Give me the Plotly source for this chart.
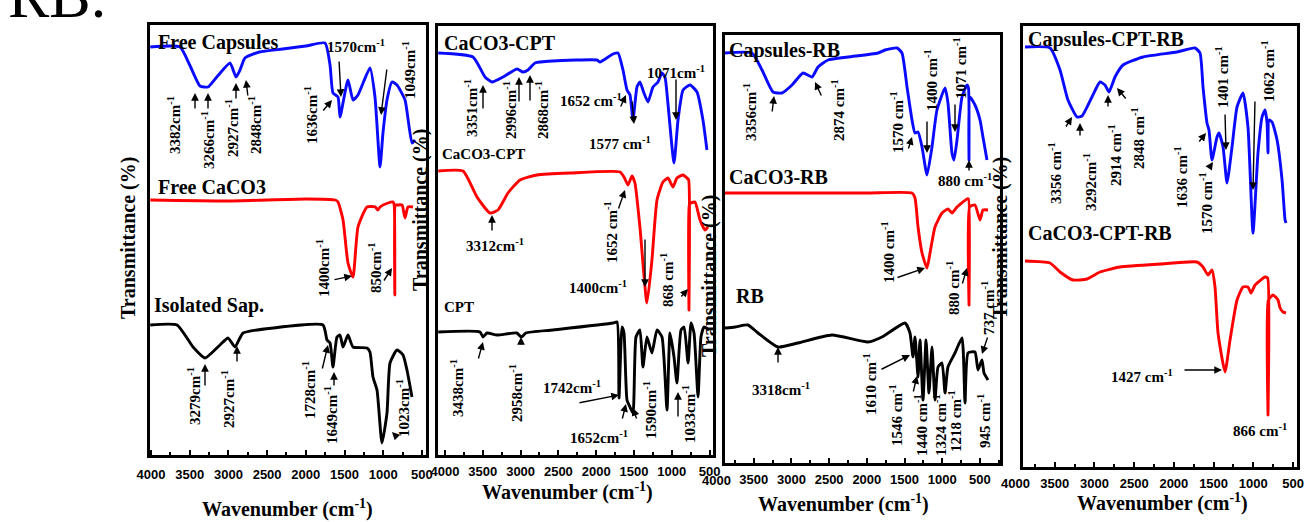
import plotly.graph_objects as go

W, H = 1305, 522

# ---------------- DATA (wavenumber cm-1, transmittance a.u.) ----------------
# Panel 1
wn_free_capsules = [4010,3625,3500,3367,3264,3150,2979,2902,2850,2786,2600,2300,2000,1752,1687,1649,1584,1558,1455,1390,1326,1171,1106,1041,1003,951,886,822,718,628,589]
t_free_capsules = [40.8,40.8,39.0,36.9,36.8,37.8,39.2,37.8,38.5,39.7,40.3,40.6,40.9,41.2,39.0,36.2,35.8,33.8,37.5,35.5,36.0,38.7,35.8,28.8,32.2,35.5,37.3,37.0,35.5,31.2,31.5]
wn_free_caco3 = [4010,3000,2000,1620,1584,1519,1455,1390,1326,1209,1100,1070,1041,938,873,858,850,842,822,757,718,680,615]
t_free_caco3 = [25.5,25.4,25.6,25.5,25.3,23.5,19.2,17.8,22.8,24.8,24.8,24.5,24.8,25.2,25.3,25.0,16.0,25.0,25.0,25.0,23.7,24.8,24.8]
wn_isolated_sap = [4010,3664,3457,3302,3109,3005,2915,2811,2424,1778,1726,1687,1649,1597,1558,1519,1455,1390,1209,1171,1132,1080,1016,951,912,822,744,693,628]
t_isolated_sap = [13.0,13.0,10.8,9.7,11.0,11.7,10.8,12.2,12.7,13.0,11.5,11.2,8.8,11.8,12.0,10.8,12.0,10.8,10.7,10.3,7.8,6.5,1.2,4.2,9.2,10.5,10.0,8.5,5.8]

# Panel 2
wn_caco3_cpt = [4090,3630,3471,3378,3233,3047,2968,2902,2809,2571,1989,1949,1777,1711,1645,1592,1552,1513,1460,1421,1368,1314,1248,1182,1131,1090,1051,970,917,850,758,666,587,534]
t_caco3_cpt = [40.2,39.8,37.8,37.3,37.8,38.6,38.3,38.5,39.2,39.4,39.5,39.3,40.1,40.2,38.5,36.5,36.0,33.5,36.8,37.3,36.2,35.3,36.8,37.3,38.2,37.8,35.2,29.2,33.5,36.5,37.0,36.3,33.5,30.5]
wn_caco3_cpt_red = [4090,3762,3577,3405,3299,3167,3008,2783,2346,1685,1632,1579,1526,1487,1421,1328,1262,1195,1116,1050,983,931,850,798,776,772,767,745,692,626,560,521]
t_caco3_cpt_red = [28.4,28.4,25.8,24.2,24.5,26.2,27.5,28.0,28.2,28.3,27.8,27.0,27.9,27.2,22.8,15.2,19.5,25.5,27.3,27.7,26.8,27.7,28.0,27.7,27.5,14.5,25.0,25.2,25.3,23.5,22.5,22.8]
wn_cpt = [4090,3537,3497,3444,3312,3050,2990,2930,2571,1777,1724,1698,1658,1632,1592,1553,1513,1473,1421,1381,1328,1262,1195,1129,1063,1023,970,931,877,837,784,745,705,652,613,573,507]
t_cpt = [12.3,12.3,11.8,12.2,12.0,12.2,11.8,12.2,12.5,13.2,13.3,5.7,12.8,12.2,5.5,4.8,4.2,11.8,12.5,8.8,11.8,10.2,12.5,11.8,4.5,12.2,9.8,7.2,12.5,12.8,9.2,13.2,12.2,5.8,11.8,12.8,12.5]

# Panel 3
wn_capsules_rb = [3881,3523,3390,3244,3125,2992,2846,2727,2647,2515,2250,1852,1759,1600,1534,1467,1401,1361,1321,1268,1202,1136,1070,963,924,871,844,804,738,672,652,645,636,566,499,460,407]
t_capsules_rb = [41.0,41.0,39.3,37.1,37.0,37.8,39.0,38.6,39.6,40.3,40.6,41.0,41.3,41.5,41.0,37.6,34.3,33.0,33.1,31.6,28.8,31.6,35.3,37.5,36.0,31.0,30.3,32.3,36.6,37.8,37.5,30.3,36.6,35.8,34.3,32.6,30.3]
wn_caco3_rb = [3881,3000,2000,1401,1361,1321,1268,1202,1162,1096,1003,924,871,804,672,652,645,636,566,499,460,393]
t_caco3_rb = [27.0,27.0,27.0,27.0,26.5,23.6,21.0,19.5,21.0,23.6,25.0,25.4,25.0,25.6,26.4,26.4,15.8,25.6,25.8,24.3,25.3,25.3]
wn_rb = [3881,3748,3576,3443,3178,2913,2462,1984,1799,1494,1428,1388,1361,1321,1295,1255,1215,1176,1136,1096,1056,1003,963,924,831,738,698,658,566,526,473,446,393]
t_rb = [13.5,13.6,13.8,13.0,11.6,12.0,12.8,12.1,12.6,14.0,13.0,10.6,12.6,8.6,12.3,6.3,12.3,7.0,11.6,6.3,9.6,10.0,7.0,9.6,11.0,12.5,6.0,11.0,11.1,9.3,10.3,9.0,8.3]

# Panel 4
wn_capsules_cpt_rb = [3874,3559,3433,3333,3219,3156,3031,2930,2867,2817,2741,2640,2388,1960,1734,1671,1633,1583,1558,1520,1457,1432,1381,1331,1268,1205,1130,1067,1004,941,890,852,827,815,802,764,701,638,600,588]
t_capsules_cpt_rb = [42.0,41.9,39.7,36.7,35.0,35.1,37.0,38.5,38.2,37.5,39.0,40.2,41.0,41.5,41.9,41.4,38.0,34.4,33.7,30.7,33.0,33.4,32.0,28.4,32.0,36.0,37.4,34.0,23.4,31.4,35.0,35.7,34.4,31.4,34.7,34.5,32.7,28.7,24.7,24.4]
wn_caco3_cpt_rb = [3874,3559,3433,3270,3093,2930,2678,2174,1709,1633,1570,1520,1482,1444,1356,1293,1205,1130,1067,1029,978,852,820,815,810,752,689,663,626,588]
t_caco3_cpt_rb = [20.6,20.4,19.5,18.7,18.8,19.5,20.0,20.3,20.5,20.0,19.2,19.7,18.0,13.4,9.5,12.7,16.7,18.0,18.0,17.4,18.2,19.0,18.9,5.2,16.7,17.2,16.7,15.9,15.5,15.4]

tick_values = [4000, 3500, 3000, 2500, 2000, 1500, 1000, 500]
tick_labels = [str(v) for v in tick_values]

# ---------------- FIGURE ----------------
BLUE, RED, BLACK = "#0a0aff", "#ff0000", "#000000"
SERIF = "Liberation Serif"
SANS = "Liberation Sans"

panels = [
    dict(box=(150, 426, 25, 455), xr=[4013, 447], yr=[0, 43.0], standoff=6),
    dict(box=(438, 713, 26, 455), xr=[4093, 454], yr=[0, 42.9], standoff=3),
    dict(box=(725, 1000, 35, 463), xr=[3881, 234], yr=[0, 42.8], standoff=3),
    dict(box=(1023, 1297, 26, 467), xr=[3899, 450], yr=[0, 44.1], standoff=3),
]

series = [
    (1, wn_free_capsules, t_free_capsules, BLUE),
    (1, wn_free_caco3, t_free_caco3, RED),
    (1, wn_isolated_sap, t_isolated_sap, BLACK),
    (2, wn_caco3_cpt, t_caco3_cpt, BLUE),
    (2, wn_caco3_cpt_red, t_caco3_cpt_red, RED),
    (2, wn_cpt, t_cpt, BLACK),
    (3, wn_capsules_rb, t_capsules_rb, BLUE),
    (3, wn_caco3_rb, t_caco3_rb, RED),
    (3, wn_rb, t_rb, BLACK),
    (4, wn_capsules_cpt_rb, t_capsules_cpt_rb, BLUE),
    (4, wn_caco3_cpt_rb, t_caco3_cpt_rb, RED),
]

fig = go.Figure()
for p, xs, ys, col in series:
    sfx = "" if p == 1 else str(p)
    fig.add_trace(go.Scatter(x=xs, y=ys, mode="lines",
                             line=dict(color=col, width=2.9, shape="spline", smoothing=0.5),
                             xaxis="x" + sfx, yaxis="y" + sfx, hoverinfo="skip"))

layout = dict(width=W, height=H, autosize=False,
              margin=dict(l=0, r=0, t=0, b=0, pad=0, autoexpand=False),
              paper_bgcolor="white", plot_bgcolor="white", showlegend=False)
for i, pn in enumerate(panels, start=1):
    x0, x1, top, bot = pn["box"]
    sfx = "" if i == 1 else str(i)
    layout["xaxis" + sfx] = dict(
        domain=[x0 / W, x1 / W], range=pn["xr"], anchor="y" + sfx,
        showline=True, mirror=True, linewidth=2.6, linecolor="black",
        ticks="inside", ticklen=5, tickwidth=2, tickcolor="black",
        tickmode="array", tickvals=tick_values, ticktext=tick_labels,
        minor=dict(ticks="inside", ticklen=3, tickwidth=1.5, dtick=250, tick0=0, tickcolor="black"),
        tickfont=dict(family=SANS, size=13, color="black", weight="bold"),
        ticklabelstandoff=pn["standoff"], automargin=False,
        showgrid=False, zeroline=False, fixedrange=True)
    layout["yaxis" + sfx] = dict(
        domain=[1 - bot / H, 1 - top / H], range=pn["yr"], anchor="x" + sfx,
        showline=True, mirror=True, linewidth=2.6, linecolor="black", automargin=False,
        showticklabels=False, ticks="", showgrid=False, zeroline=False, fixedrange=True)
fig.update_layout(**layout)

ann = []

def txt(text, x, y, size=15, rot=False, anchor="center", family=SERIF, bold=True):
    ann.append(dict(text=text, x=x / W, y=1 - y / H, xref="paper", yref="paper",
                    showarrow=False, xanchor=anchor, yanchor="middle",
                    textangle=-90 if rot else 0,
                    font=dict(family=family, size=size, color="black",
                              weight="bold" if bold else "normal")))

def arrow(tx, ty, hx, hy):
    ann.append(dict(text="", x=hx / W, y=1 - hy / H, xref="paper", yref="paper",
                    ax=tx - hx, ay=ty - hy, axref="pixel", ayref="pixel",
                    showarrow=True, arrowhead=2, arrowsize=1.1, arrowwidth=1.4,
                    arrowcolor="black", standoff=0))

S = "cm<sup>-1</sup>"
for t_, x_, y_, s_ in [("Free Capsules", 156, 42, 20), ("Free CaCO3", 156, 187, 20),
                       ("Isolated Sap.", 152, 305, 20), ("CaCO3-CPT", 442, 43, 20),
                       ("CaCO3-CPT", 440, 154, 15), ("CPT", 442, 307, 15),
                       ("Capsules-RB", 727, 50, 20), ("CaCO3-RB", 727, 177, 20),
                       ("RB", 734, 296, 20), ("Capsules-CPT-RB", 1026, 40, 20),
                       ("CaCO3-CPT-RB", 1026, 233, 20)]:
    txt(t_, x_, y_, size=s_, anchor="left")

peaks = [
    ("3382" + S, 174, 125, True), ("3266" + S, 208, 140, True), ("2927" + S, 232, 128, True),
    ("2848" + S, 255, 125, True), ("1636" + S, 311, 115, True), ("1570" + S, 356, 46, False),
    ("1049" + S, 409, 70, True), ("1400" + S, 323, 268, True), ("850" + S, 375, 268, True),
    ("3279" + S, 194, 396, True), ("2927" + S, 228, 399, True), ("1728" + S, 309, 390, True),
    ("1649" + S, 331, 415, True), ("1023" + S, 403, 408, True),
    ("3351" + S, 471, 108, True), ("2996" + S, 510, 110, True), ("2868" + S, 542, 110, True),
    ("1652 " + S, 591, 100, False), ("1577 " + S, 620, 143, False), ("1071" + S, 676, 72, False),
    ("3312" + S, 495, 245, False), ("1652 " + S, 611, 232, True), ("1400" + S, 598, 287, False),
    ("868 " + S, 667, 280, True), ("3438" + S, 457, 388, True), ("2958" + S, 516, 393, True),
    ("1742" + S, 572, 387, False), ("1652" + S, 599, 437, False), ("1590" + S, 650, 410, True),
    ("1033" + S, 689, 414, True),
    ("3356" + S, 750, 112, True), ("2874 " + S, 838, 110, True), ("1570 " + S, 897, 122, True),
    ("1400 " + S, 931, 80, True), ("1071 " + S, 960, 68, True), ("880 " + S, 965, 180, False),
    ("1400 " + S, 888, 252, True), ("880 " + S, 953, 288, True), ("737 " + S, 988, 308, True),
    ("3318" + S, 781, 389, False), ("1610 " + S, 870, 384, True), ("1546 " + S, 896, 415, True),
    ("1440 " + S, 921, 425, True), ("1324 " + S, 940, 425, True), ("1218 " + S, 955, 421, True),
    ("945 " + S, 984, 421, True),
    ("3356 " + S, 1055, 173, True), ("3292" + S, 1090, 182, True), ("2914 " + S, 1115, 155, True),
    ("2848 " + S, 1138, 138, True), ("1636 " + S, 1181, 177, True), ("1570 " + S, 1206, 203, True),
    ("1401 " + S, 1222, 77, True), ("1062 " + S, 1268, 71, True), ("1427 " + S, 1142, 376, False),
    ("866 " + S, 1260, 430, False),
]
for t_, x_, y_, r_ in peaks:
    txt(t_, x_, y_, size=15, rot=r_)

arrows = [
    (195, 110, 195, 93), (208, 110, 208, 93), (236, 100, 236, 83), (248, 97, 246, 80),
    (322, 112, 332, 100), (339, 60, 341, 97), (387, 68, 381, 115),
    (333, 280, 352, 276), (383, 282, 392, 268),
    (205, 387, 205, 364), (237, 363, 237, 346), (322, 370, 328, 345), (334, 387, 334, 372),
    (398, 438, 392, 432),
    (483, 110, 483, 85), (519, 103, 519, 77), (530, 102, 530, 75), (620, 108, 626, 95),
    (632, 100, 634, 124), (676, 78, 676, 120),
    (492, 232, 492, 215), (618, 210, 625, 190), (645, 238, 645, 287), (680, 298, 688, 289),
    (478, 360, 483, 342), (521, 346, 521, 337), (578, 403, 619, 395), (622, 420, 626, 404),
    (637, 420, 633, 408), (678, 418, 678, 392),
    (772, 113, 774, 96), (822, 97, 815, 82), (908, 150, 912, 137), (927, 120, 927, 153),
    (955, 103, 955, 132), (969, 172, 969, 160),
    (896, 278, 925, 268), (962, 285, 967, 268),
    (778, 364, 778, 347), (880, 370, 910, 355), (913, 393, 917, 376), (988, 336, 982, 354),
    (1065, 128, 1072, 117), (1080, 137, 1080, 123), (1108, 108, 1108, 95), (1127, 100, 1117, 88),
    (1198, 143, 1206, 133), (1209, 168, 1213, 162), (1225, 113, 1226, 150), (1255, 100, 1253, 190),
    (1183, 370, 1222, 370),
]
for a in arrows:
    arrow(*a)

for x_, y_ in [(287, 508), (567, 491), (843, 503), (1162, 502)]:
    txt("Wavenumber (cm<sup>-1</sup>)", x_, y_, size=20)
for x_, y_ in [(128, 238), (420, 210), (709, 276), (1000, 238)]:
    txt("Transmittance (%)", x_, y_, size=20, rot=True)

txt("4000", 717, 480, size=13, family=SANS)
txt("4000", 1016, 483, size=13, family=SANS)

ann.append(dict(text="RB.", x=6 / W, y=1 - 32 / H, xref="paper", yref="paper",
                showarrow=False, xanchor="left", yanchor="bottom",
                font=dict(family=SERIF, size=62, color="black")))

fig.update_layout(annotations=ann)

page_fix = ("document.documentElement.style.margin='0';document.body.style.margin='0';"
            "document.body.style.padding='0';document.body.style.overflow='hidden';")
fig.write_html("out.html", config={"responsive": False, "displayModeBar": False},
               post_script=page_fix)
